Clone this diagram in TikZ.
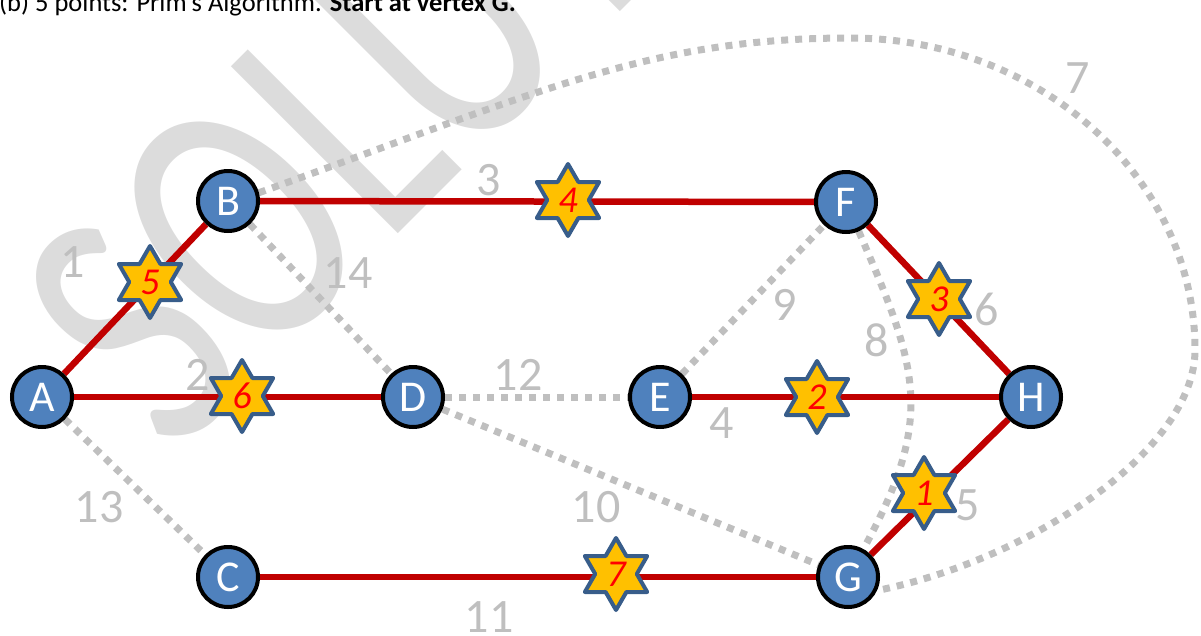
\documentclass[tikz,border=0pt]{standalone}
\usepackage{fontspec}
\setmainfont{Carlito}
\usetikzlibrary{shapes.geometric}
\definecolor{nodeblue}{HTML}{4F81BD}
\definecolor{edgered}{HTML}{C00000}
\definecolor{dotgray}{HTML}{BFBFBF}
\definecolor{wmgray}{HTML}{DCDCDC}
\definecolor{stargold}{HTML}{FFC000}
\definecolor{starblue}{HTML}{385D8A}
\pgfdeclarelayer{wm}
\pgfdeclarelayer{edges}
\pgfsetlayers{wm,edges,main}
\begin{document}
\begin{tikzpicture}[x=1pt,y=-1pt,
  vertex/.style={circle, draw=black, line width=4pt, fill=nodeblue, minimum size=60pt, inner sep=0pt, text=white, font=\fontsize{44}{44}\selectfont},
  tree/.style={draw=edgered, line width=6.5pt},
  other/.style={draw=dotgray, line width=7pt, dash pattern=on 7pt off 7pt},
  wlabel/.style={text=dotgray, font=\fontsize{48}{48}\selectfont, inner sep=0pt},
  order/.style={star, star points=6, star point ratio=1.732, minimum size=72pt, inner sep=0pt, fill=stargold, draw=starblue, line width=4pt, line join=round, text=red, font=\fontsize{38}{38}\selectfont\itshape},
  wmark/.style={text=wmgray, inner sep=0pt, font=\fontsize{368}{368}\selectfont},
  header/.style={inner sep=0pt, font=\fontsize{26.5}{26.5}\selectfont}
]
\useasboundingbox (0,0) rectangle (1201,635);

% watermark and clipped header
\begin{pgfonlayer}{wm}
\begin{scope}
\clip (0,0) rectangle (1201,635);
\node[wmark, rotate=45, xscale=0.73, anchor=base west] (wm) at (172,460) {SOLUTION};
\node[header, anchor=base west] (title) at (-1,11) {(b) 5 points: Prim's Algorithm. \textbf{Start at vertex G.}};
\end{scope}
\end{pgfonlayer}

% vertices
\node[vertex] (A) at (42,397) {A};
\node[vertex] (B) at (228,201) {B};
\node[vertex] (C) at (228,577) {C};
\node[vertex] (D) at (413,397) {D};
\node[vertex] (E) at (660,397) {E};
\node[vertex] (F) at (846,202) {F};
\node[vertex] (G) at (848,577) {G};
\node[vertex] (H) at (1031,397) {H};

\coordinate (t7) at (850,38);
\coordinate (r7) at (1195,350);

\begin{pgfonlayer}{edges}
% non-tree edges
\draw[other] (A) -- (C);
\draw[other] (B) -- (D);
\draw[other] (D) -- (E);
\draw[other] (D) -- (G);
\draw[other] (E) -- (F);
\draw[other] (F) .. controls (918,368) and (936,417) .. (G);
\draw[other] (B.15) .. controls (541,91) and (650,38) .. (t7) .. controls (1040,38) and (1195,178) .. (r7) .. controls (1195,450) and (1030,560) .. (G.-25);
% tree edges
\draw[tree] (A) -- (B);
\draw[tree] (A) -- (D);
\draw[tree] (B) -- (F);
\draw[tree] (F) -- (H);
\draw[tree] (E) -- (H);
\draw[tree] (H) -- (G);
\draw[tree] (C) -- (G);
\end{pgfonlayer}

% weights
\node[wlabel] (w1) at (73,262) {1};
\node[wlabel] (w2) at (198,375) {2};
\node[wlabel] (w3) at (489,180) {3};
\node[wlabel] (w4) at (722,423) {4};
\node[wlabel] (w5) at (968,505) {5};
\node[wlabel] (w6) at (987,309) {6};
\node[wlabel] (w7) at (1078,78) {7};
\node[wlabel] (w8) at (877,340) {8};
\node[wlabel] (w9) at (785,305) {9};
\node[wlabel] (w10) at (596,507) {10};
\node[wlabel] (w11) at (489,617) {11};
\node[wlabel] (w12) at (518,375) {12};
\node[wlabel] (w13) at (99,507) {13};
\node[wlabel] (w14) at (348,273) {14};

% order stars
\node[order] (s1) at (924,493) {1};
\node[order] (s2) at (817,397) {2};
\node[order] (s3) at (939,299) {3};
\node[order] (s4) at (568,200) {4};
\node[order] (s5) at (150,282) {5};
\node[order] (s6) at (242,396) {6};
\node[order] (s7) at (616,574) {7};
\end{tikzpicture}
\end{document}
